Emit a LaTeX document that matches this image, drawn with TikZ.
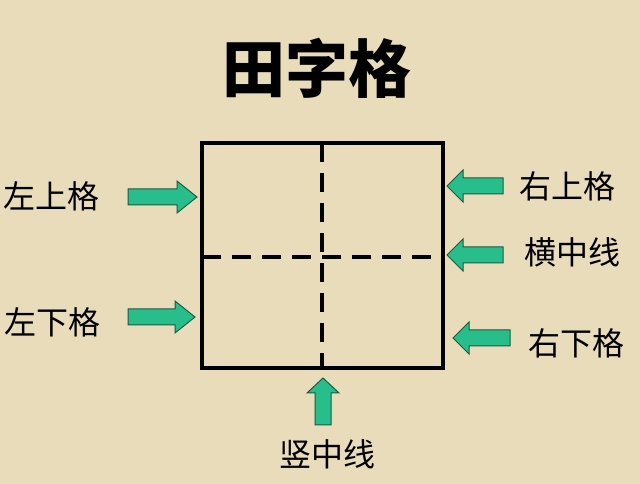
\documentclass[tikz,border=0pt]{standalone}
\usepackage{fontspec}
\newfontfamily\cjk{Noto Sans CJK SC}
\definecolor{paper}{RGB}{232,220,186}
\definecolor{arrowfill}{RGB}{40,190,140}
\definecolor{arrowline}{RGB}{30,90,66}
\tikzset{
  arr/.style={fill=arrowfill, draw=arrowline, line width=1pt, line join=miter},
  lbl/.style={font=\cjk\fontsize{32}{32}\selectfont, inner sep=0pt, text=black},
  ttl/.style={font=\cjk\bfseries\fontsize{63}{63}\selectfont, inner sep=0pt, text=black},
  grid/.style={line width=3.2pt, black},
  midline/.style={line width=3.2pt, black, dash pattern=on 19pt off 11pt}
}
\newcommand\gnarrow[5]{% tail x, tail y, angle, length, head length
  \begin{scope}[shift={(#1,#2)},rotate=#3]
    \filldraw[arr] (0,-8) -- ({#4-#5},-8) -- ({#4-#5},-16) -- (#4,0) -- ({#4-#5},16) -- ({#4-#5},8) -- (0,8) -- cycle;
  \end{scope}}
\begin{document}
\begin{tikzpicture}[x=1pt,y=1pt]
  \fill[paper] (0,0) rectangle (640,484);
  \useasboundingbox (0,0) rectangle (640,484);
  % title
  \node[ttl] (title) at (317,416) {田字格};
  % grid
  \coordinate (tl) at (202,341);
  \coordinate (br) at (443,116);
  \coordinate (vt) at (322,341);
  \coordinate (vb) at (322,116);
  \coordinate (hl) at (202,227);
  \coordinate (hr) at (443,227);
  \draw[midline] (vt) -- (vb);
  \draw[midline] (hl) -- (hr);
  \draw[grid] (tl) rectangle (br);
  % arrows
  \gnarrow{128}{287}{0}{69}{20}
  \gnarrow{128}{167}{0}{67}{20}
  \gnarrow{503}{298}{180}{56}{16}
  \gnarrow{503}{229}{180}{56}{16}
  \gnarrow{510}{146}{180}{57}{16}
  \gnarrow{323}{59}{90}{47}{15}
  % labels
  \node[lbl] (zs) at (52,288) {左上格};
  \node[lbl] (zx) at (53,162) {左下格};
  \node[lbl] (ys) at (567,298) {右上格};
  \node[lbl] (hz) at (572,232) {横中线};
  \node[lbl] (yx) at (576,141) {右下格};
  \node[lbl] (sz) at (327,30) {竖中线};
\end{tikzpicture}
\end{document}
